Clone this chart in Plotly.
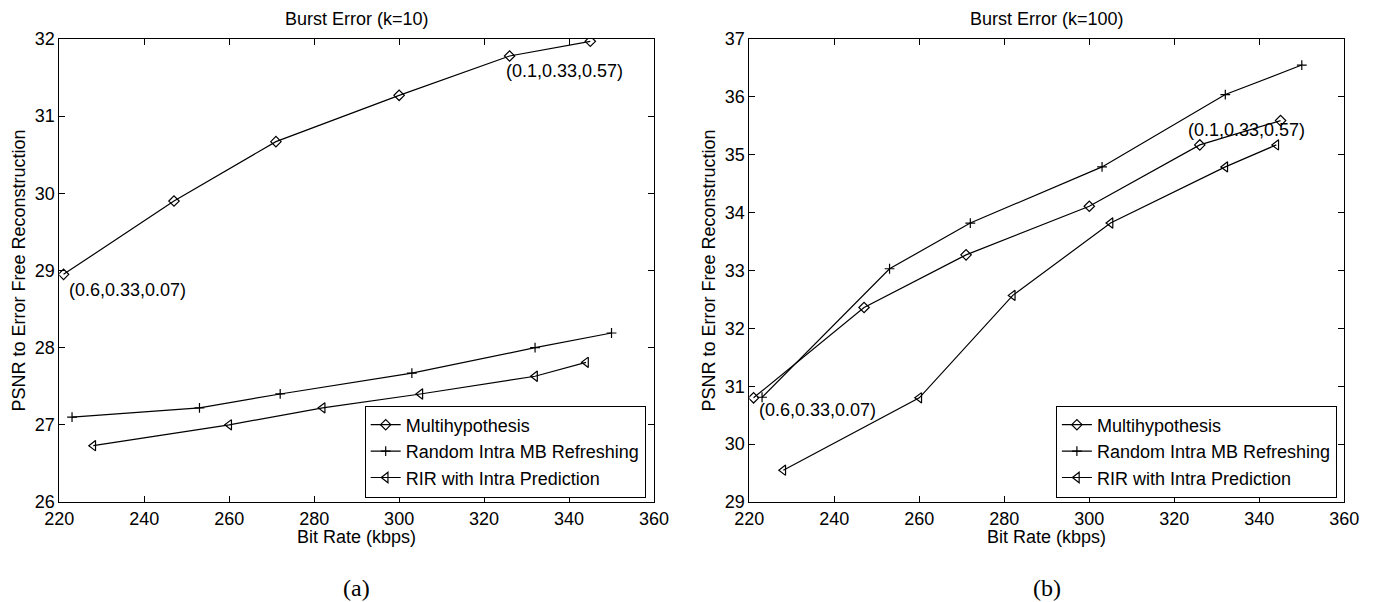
import plotly.graph_objects as go

W, H = 1374, 602

# ---------------- data ----------------
series_names = ["Multihypothesis", "Random Intra MB Refreshing", "RIR with Intra Prediction"]

# panel (a): Burst Error (k=10)
rate_mh_a = [221, 247, 271, 300, 326, 345]
psnr_mh_a = [28.95, 29.90, 30.67, 31.27, 31.78, 31.97]
rate_rir_a = [223, 253, 272, 303, 332, 350]
psnr_rir_a = [27.10, 27.22, 27.40, 27.67, 28.00, 28.19]
rate_ip_a = [228, 260, 282, 305, 332, 344]
psnr_ip_a = [26.73, 27.00, 27.22, 27.40, 27.63, 27.81]

# panel (b): Burst Error (k=100)
rate_mh_b = [221, 247, 271, 300, 326, 345]
psnr_mh_b = [30.80, 32.36, 33.27, 34.11, 35.17, 35.59]
rate_rir_b = [223, 253, 272, 303, 332, 350]
psnr_rir_b = [30.81, 33.03, 33.82, 34.79, 36.04, 36.55]
rate_ip_b = [228, 260, 282, 305, 332, 344]
psnr_ip_b = [29.55, 30.80, 32.57, 33.82, 34.79, 35.17]

x_ticks = [220, 240, 260, 280, 300, 320, 340, 360]
y_ticks_a = [26, 27, 28, 29, 30, 31, 32]
y_ticks_b = [29, 30, 31, 32, 33, 34, 35, 36, 37]

titles = ["Burst Error (k=10)", "Burst Error (k=100)"]
panel_labels = ["(a)", "(b)"]
x_title = "Bit Rate (kbps)"
y_title = "PSNR to Error Free Reconstruction"
low_label = "(0.6,0.33,0.07)"
high_label = "(0.1,0.33,0.57)"

# ---------------- styles ----------------
SANS = "Liberation Sans, Arial, Helvetica, sans-serif"
SERIF = "Liberation Serif, Times New Roman, serif"
FS = 18

symbols = ["diamond-open", "cross-thin", "triangle-left-open"]
sizes = [8, 7, 9]


def px_x(p):
    return p / W


def px_y(p):
    return 1 - p / H


# plot areas in pixels
A_L, A_R = 59.3, 654.0
B_L, B_R = 749.3, 1344.3
TOP, BOT = 39.0, 502.0

fig = go.Figure()

panels = [
    ("x", "y", "legend", [(rate_mh_a, psnr_mh_a), (rate_rir_a, psnr_rir_a), (rate_ip_a, psnr_ip_a)]),
    ("x2", "y2", "legend2", [(rate_mh_b, psnr_mh_b), (rate_rir_b, psnr_rir_b), (rate_ip_b, psnr_ip_b)]),
]

for xa, ya, lg, data in panels:
    for i, (xs, ys) in enumerate(data):
        fig.add_trace(go.Scatter(
            x=xs, y=ys, mode="lines+markers", name=series_names[i],
            xaxis=xa, yaxis=ya, legend=lg,
            line=dict(color="black", width=1.2),
            marker=dict(symbol=symbols[i], size=sizes[i], color="black",
                        line=dict(color="black", width=1.2)),
        ))

axis_common = dict(
    showgrid=False, zeroline=False, showline=True, linecolor="black", linewidth=1,
    mirror="ticks", ticks="inside", ticklen=6, tickcolor="black", tickwidth=1,
    automargin=False,
    tickfont=dict(family=SANS, size=FS, color="black"),
)

fig.update_layout(
    template="none",
    width=W, height=H,
    margin=dict(l=0, r=0, t=0, b=0, pad=0, autoexpand=False),
    paper_bgcolor="white", plot_bgcolor="white",
    font=dict(family=SANS, size=FS, color="black"),
    xaxis=dict(domain=[px_x(A_L), px_x(A_R)], range=[220, 360], tickvals=x_ticks,
               anchor="y", **axis_common),
    yaxis=dict(domain=[px_y(BOT), px_y(TOP)], range=[26, 32], tickvals=y_ticks_a,
               anchor="x", **axis_common),
    xaxis2=dict(domain=[px_x(B_L), px_x(B_R)], range=[220, 360], tickvals=x_ticks,
                anchor="y2", **axis_common),
    yaxis2=dict(domain=[px_y(BOT), px_y(TOP)], range=[29, 37], tickvals=y_ticks_b,
                anchor="x2", **axis_common),
    legend=dict(x=px_x(645.7), y=px_y(497.5), xanchor="right", yanchor="bottom",
                bordercolor="black", borderwidth=1, bgcolor="white",
                font=dict(family=SANS, size=FS, color="black"),
                itemwidth=30, tracegroupgap=0),
    legend2=dict(x=px_x(1336.9), y=px_y(497.5), xanchor="right", yanchor="bottom",
                 bordercolor="black", borderwidth=1, bgcolor="white",
                 font=dict(family=SANS, size=FS, color="black"),
                 itemwidth=30, tracegroupgap=0),
    showlegend=True,
)

ann = []
for (l, r, title, plabel, ytx) in [(A_L, A_R, titles[0], panel_labels[0], 18),
                                   (B_L, B_R, titles[1], panel_labels[1], 708)]:
    cx = px_x((l + r) / 2)
    ann.append(dict(text=title, x=cx, y=px_y(19), xref="paper", yref="paper",
                    xanchor="center", yanchor="middle", showarrow=False,
                    font=dict(family=SANS, size=FS, color="black")))
    ann.append(dict(text=x_title, x=cx, y=px_y(537), xref="paper", yref="paper",
                    xanchor="center", yanchor="middle", showarrow=False,
                    font=dict(family=SANS, size=FS, color="black")))
    ann.append(dict(text=plabel, x=cx, y=px_y(588), xref="paper", yref="paper",
                    xanchor="center", yanchor="middle", showarrow=False,
                    font=dict(family=SERIF, size=24, color="black")))
    ann.append(dict(text=y_title, x=px_x(ytx), y=px_y((TOP + BOT) / 2), xref="paper", yref="paper",
                    xanchor="center", yanchor="middle", textangle=-90, showarrow=False,
                    font=dict(family=SANS, size=FS, color="black")))

# point labels
ann.append(dict(text=low_label, x=221.8, y=28.75, xref="x", yref="y", xanchor="left",
                yanchor="middle", showarrow=False, font=dict(family=SANS, size=FS, color="black")))
ann.append(dict(text=high_label, x=324.7, y=31.585, xref="x", yref="y", xanchor="left",
                yanchor="middle", showarrow=False, font=dict(family=SANS, size=FS, color="black")))
ann.append(dict(text=low_label, x=221.7, y=30.59, xref="x2", yref="y2", xanchor="left",
                yanchor="middle", showarrow=False, font=dict(family=SANS, size=FS, color="black")))
ann.append(dict(text=high_label, x=322.8, y=35.43, xref="x2", yref="y2", xanchor="left",
                yanchor="middle", showarrow=False, font=dict(family=SANS, size=FS, color="black")))

fig.update_layout(annotations=ann)

fig.write_html("out.html")
